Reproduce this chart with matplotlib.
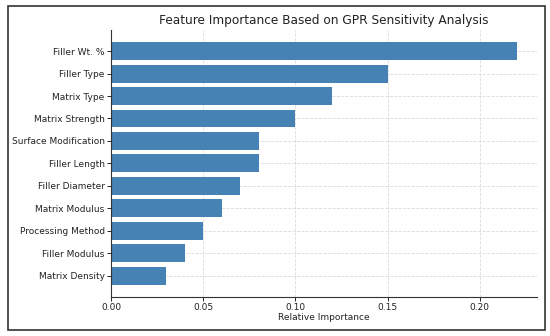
import matplotlib
matplotlib.use("Agg")
import matplotlib.pyplot as plt
from matplotlib.patches import Rectangle

features = ["Filler Wt. %", "Filler Type", "Matrix Type", "Matrix Strength",
            "Surface Modification", "Filler Length", "Filler Diameter",
            "Matrix Modulus", "Processing Method", "Filler Modulus", "Matrix Density"]
importance = [0.22, 0.15, 0.12, 0.10, 0.08, 0.08, 0.07, 0.06, 0.05, 0.04, 0.03]

fig = plt.figure(figsize=(5.5, 3.36), dpi=100)
ax = fig.add_axes([0.2018, 0.116, 0.7745, 0.795])

ax.barh(features[::-1], importance[::-1], color="#4682B4", height=0.8, zorder=2)
ax.set_title("Feature Importance Based on GPR Sensitivity Analysis", fontsize=8.7, color="#222222", pad=4)
ax.set_xlabel("Relative Importance", fontsize=6.5, labelpad=0.5, color="#222222")
ax.tick_params(labelsize=6.5, length=3, width=0.6, pad=1.5, labelcolor="#222222")
ax.set_xticks([0.0, 0.05, 0.10, 0.15, 0.20])
ax.set_xticklabels(["0.00", "0.05", "0.10", "0.15", "0.20"])
ax.grid(True, linestyle="--", color="#cccccc", linewidth=0.6, alpha=0.7, zorder=0)
ax.set_axisbelow(True)
for s in ["top", "right"]:
    ax.spines[s].set_visible(False)
for s in ["left", "bottom"]:
    ax.spines[s].set_linewidth(0.8)
    ax.spines[s].set_color("#333333")

border = Rectangle((8/550, 1-330/336), (545-8)/550, (330-6)/336, transform=fig.transFigure,
                   fill=False, edgecolor="#333333", linewidth=1.2)
fig.patches.append(border)

fig.savefig("out.png", dpi=100)
